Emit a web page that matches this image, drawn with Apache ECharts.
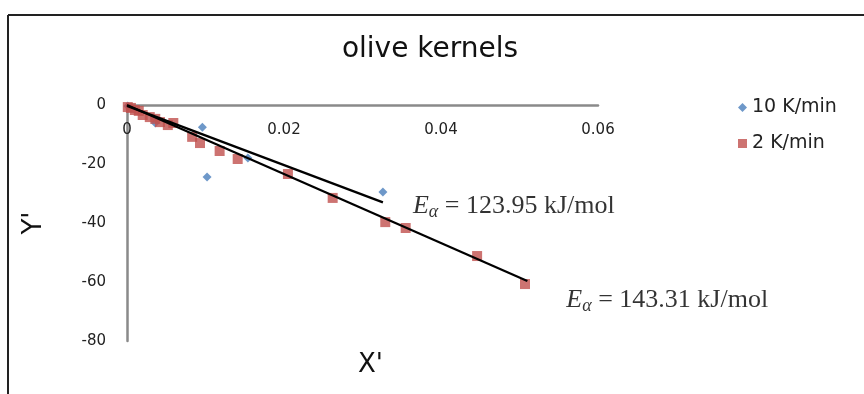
<!DOCTYPE html>
<html>
<head>
<meta charset="utf-8">
<script src="https://cdn.jsdelivr.net/npm/echarts@6/dist/echarts.min.js"></script>
<style>
  html, body { margin: 0; padding: 0; background: #fff; }
  #chart { width: 864px; height: 394px; }
</style>
</head>
<body>
<div id="chart"></div>
<script>
// Linearised kinetic data for olive kernels at two heating rates
const xTicks = [0, 0.02, 0.04, 0.06];
const yTicks = [-80, -60, -40, -20, 0];

// 10 K/min points [X', Y']
const rate10 = [
  [0.0001, -0.3], [0.0036, -6.1], [0.0096, -7.5], [0.0102, -24.4],
  [0.0154, -18.0], [0.0326, -29.5]
];

// 2 K/min points [X', Y']
const rate2 = [
  [0.0001, -0.7], [0.0005, -1.0], [0.0010, -1.7], [0.0015, -2.0],
  [0.0020, -3.4], [0.0029, -4.1], [0.0036, -4.7], [0.0042, -5.8],
  [0.0052, -6.8], [0.0059, -6.1], [0.0083, -10.8], [0.0093, -12.9],
  [0.0118, -15.6], [0.0141, -18.3], [0.0205, -23.4], [0.0262, -31.5],
  [0.0329, -39.7], [0.0355, -41.7], [0.0446, -51.2], [0.0507, -60.7]
];

// Fitted straight lines (end points)
const fit10 = [[0, -0.3], [0.0326, -33.0]];
const fit2 = [[0, 0], [0.0510, -59.7]];

// Activation energies printed next to each fit
const energy10 = '123.95';
const energy2 = '143.31';

const SANS = 'DejaVu Sans';
const SERIF = 'Liberation Serif';

const richE = {
  e: { fontFamily: SERIF, fontStyle: 'italic', fontSize: 26, color: '#000' },
  s: { fontFamily: SERIF, fontStyle: 'italic', fontSize: 18, color: '#000', padding: [12, 0, 0, 0] },
  t: { fontFamily: SERIF, fontSize: 26, color: '#000' }
};

function energyLabel(point, energy, offset) {
  return {
    name: 'E ' + energy,
    type: 'scatter',
    data: [point],
    symbol: 'circle',
    symbolSize: 0,
    silent: true,
    z: 5,
    label: {
      show: true,
      position: 'right',
      distance: 0,
      offset: offset,
      formatter: '{e|E}{s|\u03B1}{t| = ' + energy + ' kJ/mol}',
      rich: richE
    }
  };
}

const chart = echarts.init(document.getElementById('chart'));

chart.setOption({
  animation: false,
  backgroundColor: '#fff',
  title: {
    text: 'olive kernels',
    left: 425,
    textAlign: 'center',
    top: 31,
    textStyle: { fontFamily: SANS, fontSize: 28, fontWeight: 'normal', color: '#111' }
  },
  legend: {
    orient: 'vertical',
    left: 733,
    top: 93,
    itemGap: 17,
    itemWidth: 9,
    itemHeight: 9,
    textStyle: { fontFamily: SANS, fontSize: 19, color: '#222' },
    data: [
      { name: '10 K/min', icon: 'diamond' },
      { name: '2 K/min', icon: 'rect' }
    ]
  },
  grid: { left: 127, right: 266, top: 105, bottom: 53, outerBoundsMode: 'none' },
  xAxis: [
    {
      type: 'value',
      position: 'top',
      min: xTicks[0],
      max: xTicks[xTicks.length - 1],
      interval: 0.02,
      axisLine: { show: true, onZero: false, lineStyle: { color: '#8a8a8a', width: 2.5 } },
      axisTick: { show: false },
      splitLine: { show: false },
      axisLabel: {
        inside: true,
        margin: 18,
        fontFamily: SANS, fontSize: 15, color: '#222',
        formatter: v => (v === 0 ? '0' : v.toFixed(2))
      }
    },
    {
      type: 'value',
      position: 'bottom',
      min: xTicks[0],
      max: xTicks[xTicks.length - 1],
      name: "X'",
      nameLocation: 'middle',
      nameGap: 11,
      nameTextStyle: { fontFamily: SANS, fontSize: 26, color: '#111', padding: [0, 0, 0, 16] },
      axisLine: { show: false },
      axisTick: { show: false },
      axisLabel: { show: false },
      splitLine: { show: false }
    }
  ],
  yAxis: {
    type: 'value',
    min: yTicks[0],
    max: yTicks[yTicks.length - 1],
    interval: 20,
    name: "Y'",
    nameLocation: 'middle',
    nameGap: 80,
    nameRotate: 90,
    nameTextStyle: { fontFamily: SANS, fontSize: 26, color: '#111' },
    axisLine: { show: true, onZero: false, lineStyle: { color: '#8a8a8a', width: 2.5 } },
    axisTick: { show: false },
    splitLine: { show: false },
    axisLabel: { margin: 21, fontFamily: SANS, fontSize: 15, color: '#222' }
  },
  series: [
    {
      name: 'fit 10',
      type: 'line',
      data: fit10,
      showSymbol: false,
      silent: true,
      lineStyle: { color: '#000', width: 2.2 },
      z: 3
    },
    {
      name: 'fit 2',
      type: 'line',
      data: fit2,
      showSymbol: false,
      silent: true,
      lineStyle: { color: '#000', width: 2.2 },
      z: 3
    },
    {
      name: '10 K/min',
      type: 'scatter',
      data: rate10,
      symbol: 'diamond',
      symbolSize: 9,
      itemStyle: { color: '#4a7ebb' },
      z: 2
    },
    {
      name: '2 K/min',
      type: 'scatter',
      data: rate2,
      symbol: 'rect',
      symbolSize: 10,
      itemStyle: { color: '#c0504d' },
      z: 2
    },
    energyLabel(fit10[1], energy10, [30, 4]),
    energyLabel(fit2[1], energy2, [39, 19])
  ],
  graphic: [
    { type: 'line', shape: { x1: 8, y1: 15, x2: 864, y2: 15 }, style: { stroke: '#222', lineWidth: 2 } },
    { type: 'line', shape: { x1: 8, y1: 15, x2: 8, y2: 394 }, style: { stroke: '#222', lineWidth: 2 } }
  ]
});
</script>
</body>
</html>
